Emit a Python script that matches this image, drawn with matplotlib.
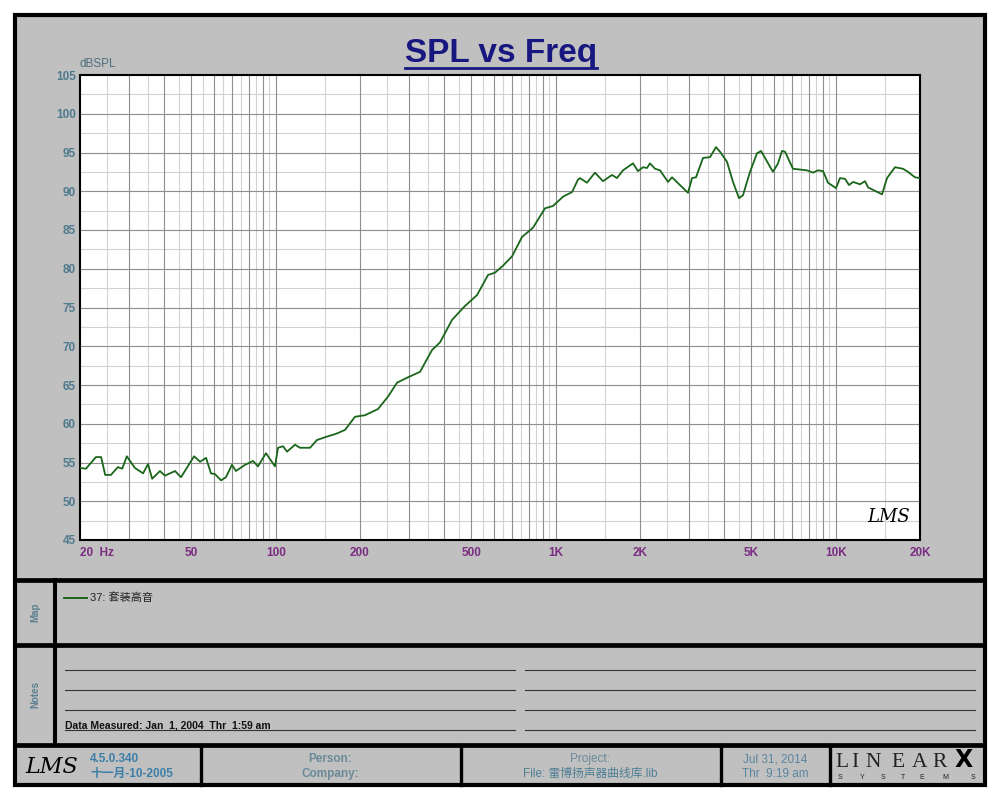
import matplotlib.pyplot as plt
from matplotlib.patches import Rectangle
import numpy as np

plt.rcParams['font.family'] = ['Liberation Sans', 'Noto Sans CJK SC']

# frequency response
freq = [20, 21.0, 22.8, 23.8, 24.6, 25.8, 27.3, 28.3, 29.4, 31.4, 33.6, 35.0,
        36.2, 38.6, 40.2, 43.7, 45.9, 51.1, 53.7, 56.4, 58.7, 60.7, 63.8, 66.4,
        69.8, 72.1, 77.7, 83.0, 86.4, 92.3, 99.4, 101.9, 106.2, 109.8, 117.2,
        122.1, 132.6, 140.4, 151.2, 164.2, 176.8, 191.9, 208.4, 231.9, 251.8,
        271.2, 296.9, 327.7, 361.5, 386.2, 426.3, 474.3, 523.6, 573.2, 607.2,
        648.4, 698.3, 758, 829.8, 915.7, 978, 1062, 1144, 1201, 1221, 1293,
        1381, 1475, 1589, 1655, 1739, 1888, 1967, 2050, 2118, 2171, 2263, 2358,
        2518, 2602, 2778, 2968, 3068, 3170, 3358, 3557, 3737, 3862, 4090, 4297,
        4515, 4666, 4942, 5236, 5410, 5590, 5970, 6222, 6430, 6592, 7038, 7898,
        8298, 8646, 9010, 9388, 10024, 10360, 10796, 11156, 11530, 12212, 12726,
        13044, 14636, 15248, 16284, 17390, 18120, 19192, 20000]
spl = [54.3, 54.2, 55.7, 55.7, 53.4, 53.4, 54.4, 54.2, 55.8, 54.3, 53.6, 54.8,
       52.9, 53.9, 53.3, 53.9, 53.1, 55.8, 55.1, 55.6, 53.6, 53.5, 52.7, 53.1,
       54.7, 53.9, 54.7, 55.2, 54.5, 56.2, 54.5, 56.9, 57.1, 56.4, 57.3,
       56.9, 56.9, 57.9, 58.3, 58.7, 59.2, 60.9, 61.1, 61.9, 63.5,
       65.3, 66.0, 66.7, 69.5, 70.5, 73.4, 75.2, 76.6, 79.2, 79.5,
       80.4, 81.6, 84.1, 85.3, 87.8, 88.1, 89.3, 89.9, 91.5, 91.7, 91.1,
       92.4, 91.3, 92.1, 91.7, 92.7, 93.6, 92.6, 93.1, 93.0, 93.6, 92.9, 92.7,
       91.2, 91.8, 90.8, 89.8, 91.7, 91.8, 94.3, 94.4, 95.7, 95.1, 93.8, 91.2,
       89.1, 89.5, 92.5, 94.9, 95.2, 94.3, 92.5, 93.6, 95.2, 95.1, 92.9, 92.7,
       92.4, 92.7, 92.6, 91.1, 90.4, 91.7, 91.6, 90.8, 91.2, 90.9, 91.3,
       90.5, 89.6, 91.7, 93.1, 92.9, 92.5, 91.8, 91.7]

xticks = [20, 50, 100, 200, 500, 1000, 2000, 5000, 10000, 20000]
xticklabels = ['20  Hz', '50', '100', '200', '500', '1K', '2K', '5K', '10K', '20K']
yticks = list(range(45, 106, 5))

series_name = '37: 套装高音'

GRAY = '#c0c0c0'
LABEL = '#5a7f90'

fig = plt.figure(figsize=(10, 8), dpi=100)

# background panel in pixel coordinates
bg = fig.add_axes([0, 0, 1, 1])
bg.set_xlim(0, 1000)
bg.set_ylim(800, 0)
bg.axis('off')

bg.add_patch(Rectangle((14.7, 14.7), 970.3, 770, facecolor=GRAY,
                       edgecolor='black', lw=3))
for y in [579.5, 645, 744.5]:
    bg.plot([14.7, 985], [y, y], color='black', lw=3.4, solid_capstyle='butt')
bg.plot([55, 55], [579.5, 744.5], color='black', lw=2.9)
for x in [200.5, 461, 721, 830]:
    bg.plot([x, x], [744.5, 784.7], color='black', lw=2.4)

# title
t = bg.text(501, 62, 'SPL vs Freq', ha='center', va='baseline', fontsize=24,
            weight='bold', color='#17177f')
bg.text(80, 67, 'dBSPL', ha='left', va='baseline', fontsize=8.5, color='#4f7080')

# map section
bg.text(35, 612, 'Map', rotation=90, ha='center', va='center', fontsize=7,
        weight='bold', color=LABEL)
bg.plot([64, 87], [598, 598], color='#1a661a', lw=1.4)
bg.text(90, 598, series_name, ha='left', va='center', fontsize=8, color='#222222')

# notes section
bg.text(35, 695, 'Notes', rotation=90, ha='center', va='center', fontsize=7,
        weight='bold', color=LABEL)
for y in [670, 690, 710, 730]:
    bg.plot([65, 515], [y, y], color='#333333', lw=0.8)
    bg.plot([525, 975], [y, y], color='#333333', lw=0.8)
bg.text(65, 728.5, 'Data Measured: Jan  1, 2004  Thr  1:59 am', ha='left',
        va='baseline', fontsize=7.5, weight='bold', color='#111111')

# footer
bg.text(52, 773, 'LMS', ha='center', va='baseline', fontsize=16, style='italic',
        family='DejaVu Serif', color='black')
bg.text(90, 762, '4.5.0.340', ha='left', va='baseline', fontsize=8.5,
        weight='bold', color='#3d7fa8')
bg.text(90, 777, '十一月-10-2005', ha='left', va='baseline', fontsize=8.5,
        weight='bold', color='#3d7fa8')
bg.text(330, 762, 'Person:', ha='center', va='baseline', fontsize=8.5,
        weight='bold', color='#6a8a98')
bg.text(330, 777, 'Company:', ha='center', va='baseline', fontsize=8.5,
        weight='bold', color='#6a8a98')
bg.text(590, 762, 'Project:', ha='center', va='baseline', fontsize=8.5,
        color='#6a8a98')
bg.text(590, 777, 'File: 雷博扬声器曲线库.lib', ha='center', va='baseline',
        fontsize=8.5, color='#4f7f95')
bg.text(775, 762, 'Jul 31, 2014', ha='center', va='baseline', fontsize=8.5,
        color='#5a85a0')
bg.text(775, 777, 'Thr  9:19 am', ha='center', va='baseline', fontsize=8.5,
        color='#5a85a0')

# LINEARX logo
for ch, x in zip('LINEAR', [842, 855, 873.5, 898, 920, 940]):
    bg.text(x, 767, ch, ha='center', va='baseline', fontsize=15.5,
            family='Liberation Serif', color='#222222')
bg.text(964, 767, 'X', ha='center', va='baseline', fontsize=17, weight='bold',
        family='DejaVu Sans', color='black')
for ch, x in zip('SYSTEMS', [840, 862, 883, 903, 922, 945, 973]):
    bg.text(x, 779, ch, ha='center', va='baseline', fontsize=5,
            color='#222222')

# plot
ax = fig.add_axes([0.08, 0.325, 0.84, 0.58125])
ax.set_facecolor('white')
ax.set_xscale('log')
ax.set_xlim(20, 20000)
ax.set_ylim(45, 105)

for e in range(1, 5):
    for m in range(1, 10):
        f = m * 10 ** e
        if 20 < f < 20000:
            ax.axvline(f, color='#8e8e8e', lw=0.8, zorder=1)
        fh = (m + 0.5) * 10 ** e
        if 20 < fh < 20000:
            ax.axvline(fh, color='#d2d2d2', lw=0.8, zorder=0.5)
for v in yticks[1:-1]:
    ax.axhline(v, color='#8e8e8e', lw=0.8, zorder=1)
for v in np.arange(47.5, 105, 5):
    ax.axhline(v, color='#d2d2d2', lw=0.8, zorder=0.5)

ax.plot(freq, spl, color='#1a661a', lw=1.3, zorder=3)

ax.set_xticks(xticks)
ax.set_xticklabels(xticklabels)
ax.set_xticks([], minor=True)
ax.set_yticks(yticks)
ax.tick_params(axis='x', length=0, pad=5, labelsize=8.5, labelcolor='#7b2d82')
ax.tick_params(axis='y', length=0, pad=3, labelsize=8.5, labelcolor='#4e7a8e')
for lab in ax.get_xticklabels() + ax.get_yticklabels():
    lab.set_fontweight('bold')
ax.get_xticklabels()[0].set_horizontalalignment('left')
for s in ax.spines.values():
    s.set_linewidth(1.5)
    s.set_color('black')

ax.text(0.988, 0.03, 'LMS', transform=ax.transAxes, ha='right', va='bottom',
        fontsize=13, style='italic', family='DejaVu Serif', color='black',
        zorder=4)

# underline the title
fig.canvas.draw()
bb = t.get_window_extent()
inv = bg.transData.inverted()
x0, _ = inv.transform((bb.x0, bb.y0))
x1, _ = inv.transform((bb.x1, bb.y0))
bg.plot([x0, x1], [68, 68], color='#17177f', lw=2)

fig.savefig('out.png', dpi=100, facecolor='white')
